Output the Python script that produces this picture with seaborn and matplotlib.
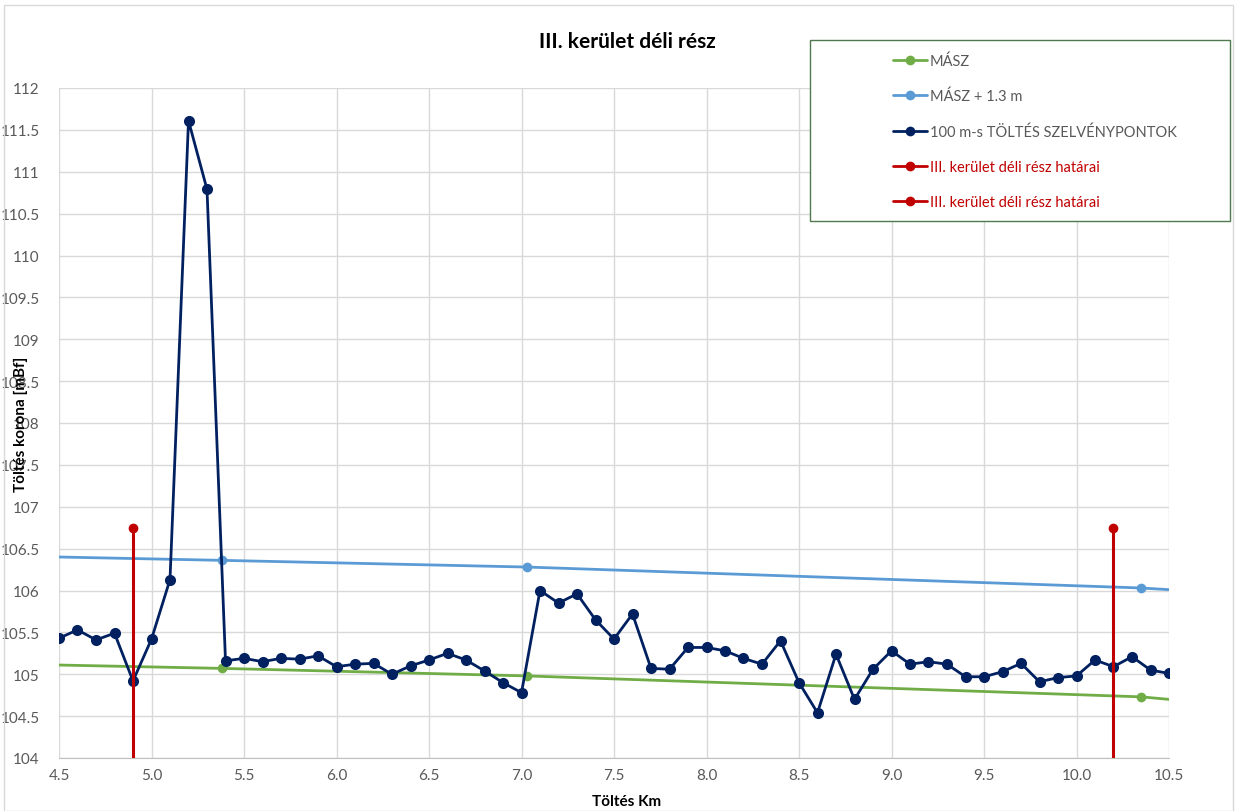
import numpy as np
import pandas as pd
import matplotlib
matplotlib.use("Agg")
import matplotlib.pyplot as plt
import seaborn as sns
from matplotlib.lines import Line2D
from matplotlib.patches import Rectangle

# ---- data ----
km = [4.5, 4.6, 4.7, 4.8, 4.9, 5.0, 5.1, 5.2, 5.3, 5.4, 5.5, 5.6, 5.7, 5.8, 5.9,
      6.0, 6.1, 6.2, 6.3, 6.4, 6.5, 6.6, 6.7, 6.8, 6.9, 7.0, 7.1, 7.2, 7.3, 7.4,
      7.5, 7.6, 7.7, 7.8, 7.9, 8.0, 8.1, 8.2, 8.3, 8.4, 8.5, 8.6, 8.7, 8.8, 8.9,
      9.0, 9.1, 9.2, 9.3, 9.4, 9.5, 9.6, 9.7, 9.8, 9.9, 10.0, 10.1, 10.2, 10.3, 10.4, 10.5]
korona = [105.43, 105.53, 105.41, 105.49, 104.92, 105.42, 106.13, 111.61, 110.79, 105.16,
          105.19, 105.15, 105.19, 105.18, 105.22, 105.09, 105.12, 105.13, 105.00, 105.10,
          105.17, 105.25, 105.17, 105.04, 104.90, 104.78, 106.00, 105.85, 105.96, 105.65,
          105.42, 105.72, 105.07, 105.06, 105.32, 105.32, 105.28, 105.19, 105.12, 105.40,
          104.90, 104.54, 105.24, 104.70, 105.06, 105.28, 105.12, 105.15, 105.12, 104.97,
          104.97, 105.03, 105.13, 104.91, 104.96, 104.98, 105.17, 105.09, 105.21, 105.05, 105.01]

masz_km = [4.5, 5.38, 7.03, 10.35, 10.5]
masz = [105.11, 105.07, 104.98, 104.73, 104.70]
masz13 = [106.40, 106.36, 106.28, 106.03, 106.01]

hatar1_km = [4.9, 4.9]
hatar2_km = [10.2, 10.2]
hatar_y = [104.0, 106.75]

labels = ["MÁSZ", "MÁSZ + 1.3 m", "100 m-s TÖLTÉS SZELVÉNYPONTOK",
          "III. kerület déli rész határai", "III. kerület déli rész határai"]
title = "III. kerület déli rész"
xlabel = "Töltés Km"
ylabel = "Töltés korona [mBf]"

# ---- style ----
sns.set_style("white")
plt.rcParams['font.family'] = ['Lato', 'DejaVu Sans']

GREEN = "#70ad47"
BLUE = "#5b9bd5"
NAVY = "#002060"
RED = "#c00000"
GRID = "#d9d9d9"
TXT = "#595959"

fig = plt.figure(figsize=(12.37, 8.12), dpi=100)
W, H = 1237, 812
ax = fig.add_axes([59 / W, 1 - 759 / H, (1169 - 59) / W, (759 - 89) / H])

df_main = pd.DataFrame({"km": km, "y": korona})
df_m = pd.DataFrame({"km": masz_km, "y": masz})
df_m13 = pd.DataFrame({"km": masz_km, "y": masz13})

sns.lineplot(data=df_m, x="km", y="y", ax=ax, color=GREEN, lw=2.0, sort=False,
             estimator=None, marker="o", markersize=7, markeredgewidth=0,
             markevery=[1, 2, 3], zorder=3)
sns.lineplot(data=df_m13, x="km", y="y", ax=ax, color=BLUE, lw=2.0, sort=False,
             estimator=None, marker="o", markersize=7, markeredgewidth=0,
             markevery=[1, 2, 3], zorder=3)
sns.lineplot(data=df_main, x="km", y="y", ax=ax, color=NAVY, lw=2.0, sort=False,
             estimator=None, marker="o", markersize=8, markeredgewidth=0, zorder=4)
for hk in (hatar1_km, hatar2_km):
    d = pd.DataFrame({"km": hk, "y": hatar_y})
    sns.lineplot(data=d, x="km", y="y", ax=ax, color=RED, lw=2.2, sort=False,
                 estimator=None, marker="o", markersize=7, markeredgewidth=0,
                 markevery=[1], zorder=5)

ax.set_xlim(4.5, 10.5)
ax.set_ylim(104, 112)
ax.set_xticks(np.arange(4.5, 10.51, 0.5))
ax.set_xticklabels([f"{v:.1f}" for v in np.arange(4.5, 10.51, 0.5)])
yt = np.arange(104, 112.01, 0.5)
ax.set_yticks(yt)
ax.set_yticklabels([f"{v:g}" for v in yt])
ax.grid(True, color=GRID, lw=1.0)
ax.set_axisbelow(True)
for s in ["top", "right", "left"]:
    ax.spines[s].set_visible(False)
ax.spines["bottom"].set_color("#bfbfbf")
ax.tick_params(axis="both", length=0, labelsize=11, colors=TXT)
ax.tick_params(axis="x", pad=7)
ax.tick_params(axis="y", pad=14)

ax.set_xlabel("")
ax.set_ylabel("")
fig.text(627 / W, 1 - 42 / H, title, ha="center", va="center",
         fontsize=15, fontweight="bold", color="#000000")
fig.text(627 / W, 1 - 802 / H, xlabel, ha="center", va="center",
         fontsize=11, fontweight="bold", color="#000000")
fig.text(21 / W, 1 - 424 / H, ylabel, ha="center", va="center", rotation=90,
         fontsize=11, fontweight="bold", color="#000000")

# legend
handles = [
    Line2D([], [], color=GREEN, lw=2, marker="o", markersize=7, markeredgewidth=0),
    Line2D([], [], color=BLUE, lw=2, marker="o", markersize=7, markeredgewidth=0),
    Line2D([], [], color=NAVY, lw=2, marker="o", markersize=7, markeredgewidth=0),
    Line2D([], [], color=RED, lw=2, marker="o", markersize=7, markeredgewidth=0),
    Line2D([], [], color=RED, lw=2, marker="o", markersize=7, markeredgewidth=0),
]
bx0, by0, bx1, by1 = 810, 41, 1230, 222
fig.patches.append(Rectangle((bx0 / W, 1 - by1 / H), (bx1 - bx0) / W, (by1 - by0) / H,
                             transform=fig.transFigure, facecolor="white",
                             edgecolor="#4e7a4e", lw=1.0, zorder=10))
leg = fig.legend(handles, labels, loc="upper left",
                 bbox_to_anchor=(880 / W, 1 - 41 / H), frameon=False,
                 fontsize=10.5, handlelength=2.3, handletextpad=0.2,
                 labelspacing=1.45)
leg.set_zorder(11)
for t, c in zip(leg.get_texts(), [TXT, TXT, TXT, RED, RED]):
    t.set_color(c)

fig.patches.append(Rectangle((4 / W, 0), (W - 8) / W, 1 - 6 / H, transform=fig.transFigure,
                             facecolor="none", edgecolor="#d9d9d9", lw=1.0, zorder=0))

fig.savefig("out.png", dpi=100)
